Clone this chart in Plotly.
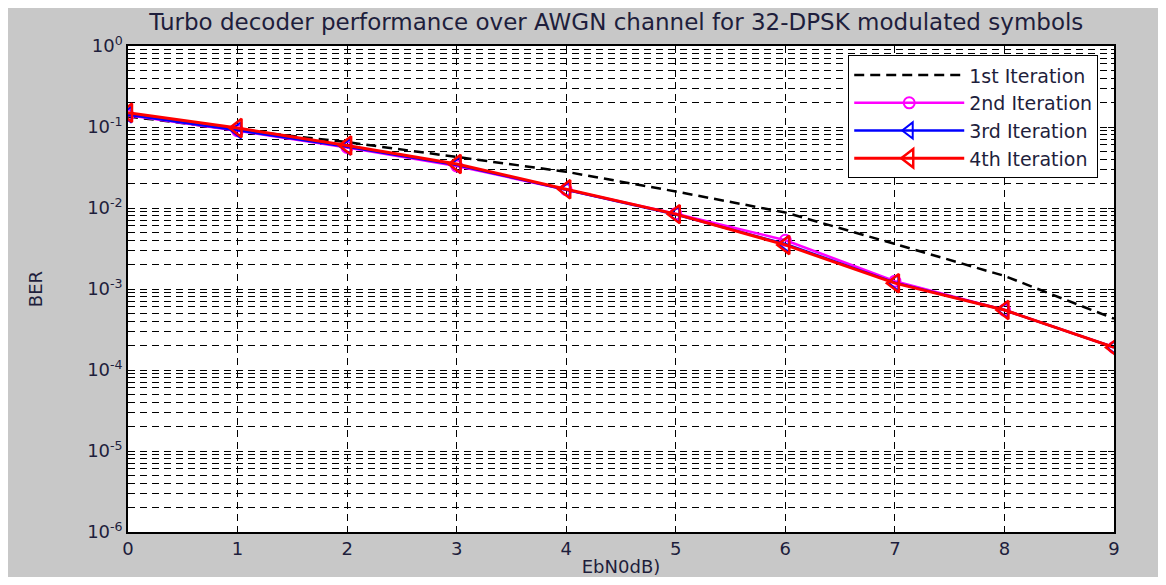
import plotly.graph_objects as go

ebn0 = [0, 1, 2, 3, 4, 5, 6, 7, 8, 9]
ber_it1 = [0.135, 0.092, 0.065, 0.043, 0.028, 0.0160, 0.0088, 0.0036, 0.00145, 0.00043]
ber_it2 = [0.140, 0.090, 0.056, 0.033, 0.0168, 0.0085, 0.0040, 0.00125, 0.00055, 0.00019]
ber_it3 = [0.142, 0.091, 0.057, 0.034, 0.0168, 0.0083, 0.0036, 0.00120, 0.00055, 0.00019]
ber_it4 = [0.150, 0.097, 0.059, 0.035, 0.0170, 0.0084, 0.0035, 0.00118, 0.00055, 0.00019]

ytick_vals = [1e-6, 1e-5, 1e-4, 1e-3, 1e-2, 1e-1, 1e0]
ytick_text = ["10<sup>-6</sup>", "10<sup>-5</sup>", "10<sup>-4</sup>", "10<sup>-3</sup>",
              "10<sup>-2</sup>", "10<sup>-1</sup>", "10<sup>0</sup>"]
xtick_vals = list(range(0, 10))

FONT = "DejaVu Sans, Arial, sans-serif"
TXT = "#1e1e3c"
GRID_DASH = "7px,5px"

fig = go.Figure()
fig.add_trace(go.Scatter(x=ebn0, y=ber_it1, mode="lines", name="1st Iteration",
                         line=dict(color="black", width=2.5, dash="10px,6px")))
fig.add_trace(go.Scatter(x=ebn0, y=ber_it2, mode="lines+markers", name="2nd Iteration",
                         line=dict(color="#ff00ff", width=2.5),
                         marker=dict(symbol="circle-open", size=11, color="#ff00ff", line=dict(width=2))))
fig.add_trace(go.Scatter(x=ebn0, y=ber_it3, mode="lines+markers", name="3rd Iteration",
                         line=dict(color="#0000ff", width=2.5),
                         marker=dict(symbol="triangle-left-open", size=14, color="#0000ff", line=dict(width=2))))
fig.add_trace(go.Scatter(x=ebn0, y=ber_it4, mode="lines+markers", name="4th Iteration",
                         line=dict(color="#ff0000", width=3),
                         marker=dict(symbol="triangle-left-open", size=16, color="#ff0000", line=dict(width=2.5))))

fig.update_layout(
    width=1150, height=569,
    paper_bgcolor="#c8c8c8", plot_bgcolor="white",
    margin=dict(l=120, r=44, t=38, b=45, autoexpand=False),
    font=dict(family=FONT, size=18, color=TXT),
    title=dict(text="Turbo decoder performance over AWGN channel for 32-DPSK modulated symbols",
               x=0.529, xanchor="center", y=0.975, yanchor="middle",
               font=dict(family=FONT, size=23, color=TXT)),
    showlegend=True,
    legend=dict(x=0.984, xanchor="right", y=0.981, yanchor="top",
                bgcolor="white", bordercolor="black", borderwidth=1,
                font=dict(family=FONT, size=19, color=TXT),
                tracegroupgap=0, itemwidth=110),
)

fig.update_xaxes(
    range=[0, 9], tickvals=xtick_vals, ticks="inside", ticklen=6, tickcolor="black",
    showline=True, linecolor="black", linewidth=1.5, mirror="allticks",
    showgrid=True, gridcolor="black", griddash=GRID_DASH, gridwidth=1,
    zeroline=False, automargin=False,
    title=dict(text="EbN0dB)", standoff=5, font=dict(family=FONT, size=18, color=TXT)),
    tickfont=dict(family=FONT, size=18, color=TXT),
)
fig.update_yaxes(
    type="log", range=[-6, 0], tickvals=ytick_vals, ticktext=ytick_text,
    ticks="inside", ticklen=6, tickcolor="black",
    showline=True, linecolor="black", linewidth=1.5, mirror="allticks",
    showgrid=True, gridcolor="black", griddash=GRID_DASH, gridwidth=1,
    minor=dict(dtick="D1", showgrid=True, gridcolor="black", griddash=GRID_DASH, gridwidth=1,
               ticks="inside", ticklen=3, tickcolor="black"),
    automargin=False,
    title=dict(text="BER", standoff=40, font=dict(family=FONT, size=18, color=TXT)),
    tickfont=dict(family=FONT, size=18, color=TXT),
)

fig.write_html("out.html")
